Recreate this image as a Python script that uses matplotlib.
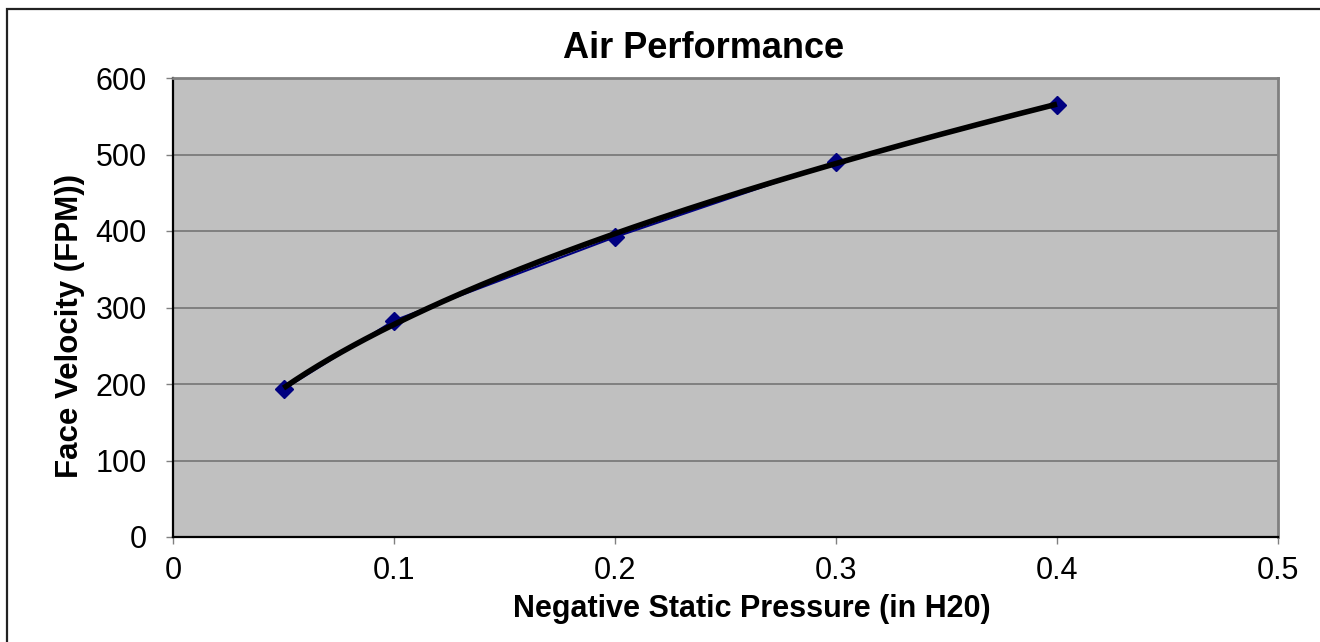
import numpy as np
import matplotlib
matplotlib.use("Agg")
import matplotlib.pyplot as plt
from matplotlib.patches import Rectangle

plt.rcParams['font.family'] = ['Liberation Sans', 'DejaVu Sans']

# data
pressure = [0.05, 0.1, 0.2, 0.3, 0.4]
velocity = [193, 283, 392, 490, 565]
x_ticks = [0, 0.1, 0.2, 0.3, 0.4, 0.5]
x_tick_labels = ['0', '0.1', '0.2', '0.3', '0.4', '0.5']
y_ticks = [0, 100, 200, 300, 400, 500, 600]

fig = plt.figure(figsize=(13.2, 6.42), dpi=100)
ax = fig.add_axes([173 / 1320, 1 - 537 / 642, (1278 - 173) / 1320, (537 - 78) / 642])

# frame around the chart area (only left/top visible in the original crop)
fig.patches.append(Rectangle((7 / 1320, -0.1), 1.2, 1 - 9 / 642 + 0.1,
                             transform=fig.transFigure, fill=False,
                             edgecolor='#222222', linewidth=1.6))

ax.set_facecolor('#c0c0c0')
ax.set_xlim(0, 0.5)
ax.set_ylim(0, 600)
ax.set_xticks(x_ticks)
ax.set_xticklabels(x_tick_labels)
ax.set_yticks(y_ticks)
ax.yaxis.grid(True, color='#808080', linewidth=1.4)
ax.set_axisbelow(True)

for s in ['top', 'right']:
    ax.spines[s].set_color('#808080')
    ax.spines[s].set_linewidth(2)
for s in ['left', 'bottom']:
    ax.spines[s].set_color('black')
    ax.spines[s].set_linewidth(1.6)

ax.tick_params(axis='both', direction='out', length=5, width=1, color='#808080',
               labelsize=22)
ax.tick_params(axis='x', pad=9)
ax.tick_params(axis='y', pad=14)

# data series
ax.plot(pressure, velocity, color='#000080', linewidth=1.5, marker='D',
        markersize=9, markerfacecolor='#000080', markeredgecolor='#000080', zorder=3)

# power trendline fitted to the data
b, log_a = np.polyfit(np.log(pressure), np.log(velocity), 1)
xs = np.linspace(min(pressure), max(pressure), 200)
ax.plot(xs, np.exp(log_a) * xs ** b, color='black', linewidth=4, zorder=4,
        solid_capstyle='butt')

fig.text(704 / 1320, 1 - 48 / 642, 'Air Performance', ha='center', va='center',
         fontsize=26, fontweight='bold')
fig.text(752 / 1320, 1 - 609 / 642, 'Negative Static Pressure (in H20)', ha='center',
         va='center', fontsize=22, fontweight='bold')
fig.text(70 / 1320, 1 - 326 / 642, 'Face Velocity (FPM))', ha='center', va='center',
         rotation=90, fontsize=22.5, fontweight='bold')

fig.savefig('out.png', dpi=100, facecolor='white')
